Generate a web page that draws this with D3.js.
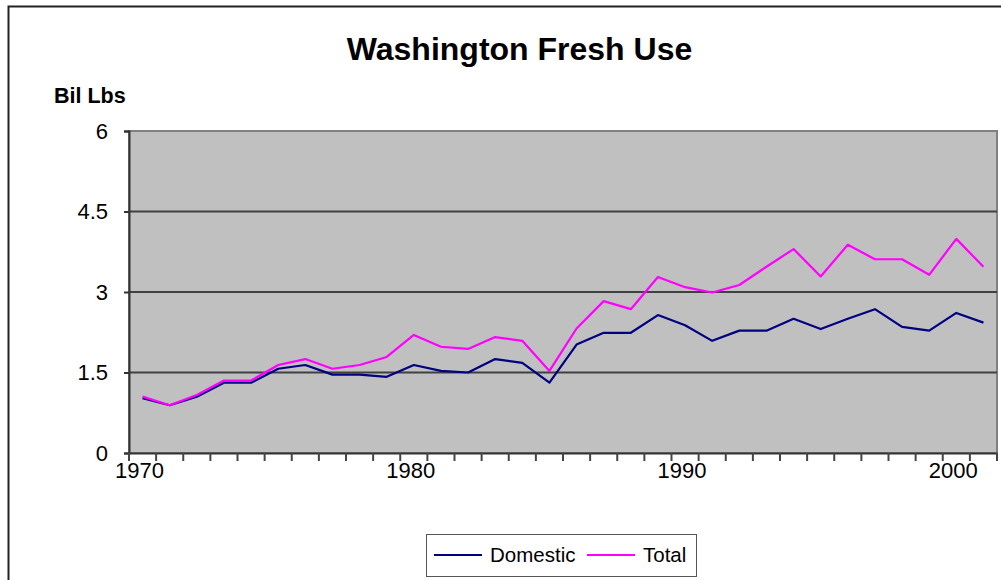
<!DOCTYPE html>
<html><head><meta charset="utf-8">
<script src="https://cdn.jsdelivr.net/npm/d3@7"></script>
<style>body{margin:0;background:#fff;}svg{display:block;font-family:"Liberation Sans",Arial,sans-serif;}</style>
</head><body>
<svg id="c" width="1001" height="580"></svg>
<script>
const years = d3.range(1970, 2002);
const domestic = [1.02,0.89,1.05,1.31,1.31,1.57,1.64,1.46,1.46,1.42,1.64,1.53,1.50,1.75,1.68,1.31,2.02,2.24,2.24,2.57,2.38,2.09,2.28,2.28,2.50,2.31,2.50,2.68,2.35,2.28,2.61,2.43];
const total = [1.05,0.89,1.08,1.35,1.35,1.64,1.75,1.57,1.64,1.79,2.20,1.98,1.94,2.16,2.09,1.53,2.32,2.83,2.68,3.28,3.09,2.99,3.13,3.47,3.80,3.29,3.88,3.61,3.61,3.32,3.99,3.47];
const yTicks = [0,1.5,3,4.5,6];
const xLabels = [1970,1980,1990,2000];
const seriesNames = ["Domestic","Total"];
const colors = ["#000080","#ff00ff"];

const svg = d3.select("#c");
const L=129, R=997, T=131, B=453;
svg.append("rect").attr("x",8.5).attr("y",6.5).attr("width",1100).attr("height",700)
  .attr("fill","none").attr("stroke","#222").attr("stroke-width",2);

const x = d3.scaleBand().domain(years).range([L,R]);
const y = d3.scaleLinear().domain([0,6]).range([B,T]);

svg.append("rect").attr("x",L).attr("y",T).attr("width",R-L).attr("height",B-T)
  .attr("fill","#c0c0c0").attr("stroke","#808080").attr("stroke-width",2);

// grid
svg.append("g").selectAll("line").data(yTicks.filter(d=>d>0&&d<6)).join("line")
  .attr("x1",L).attr("x2",R).attr("y1",d=>y(d)).attr("y2",d=>y(d))
  .attr("stroke","#404040").attr("stroke-width",2);

// y axis
const ya = svg.append("g").attr("transform",`translate(${L},0)`)
  .call(d3.axisLeft(y).tickValues(yTicks).tickSize(5).tickPadding(16).tickFormat(d=>d));
ya.select(".domain").attr("stroke","#333").attr("stroke-width",2);
ya.selectAll(".tick line").attr("stroke","#333").attr("stroke-width",2);
ya.selectAll("text").attr("font-size",22).attr("fill","#000").attr("font-family","Liberation Sans, Arial, sans-serif");

// x axis
const xa = svg.append("g").attr("transform",`translate(0,${B})`)
  .call(d3.axisBottom(x).tickValues([]).tickSizeOuter(0));
xa.select(".domain").attr("stroke","#333").attr("stroke-width",2);
svg.append("g").selectAll("line").data(years.concat([null])).join("line")
  .attr("x1",(d,i)=> i<years.length ? x(d) : R).attr("x2",(d,i)=> i<years.length ? x(d) : R)
  .attr("y1",B).attr("y2",B+8).attr("stroke","#444").attr("stroke-width",2);
svg.append("g").selectAll("text").data(xLabels).join("text")
  .attr("x",d=>x(d)+x.bandwidth()/2 - 3).attr("y",478).attr("text-anchor","middle")
  .attr("font-size",22).text(d=>d);

// lines
const line = d3.line().x((d,i)=>x(years[i])+x.bandwidth()/2).y(d=>y(d));
[domestic,total].forEach((s,i)=>{
  svg.append("path").attr("d",line(s)).attr("fill","none").attr("stroke",colors[i]).attr("stroke-width",2.2).attr("stroke-linejoin","round");
});

// titles
svg.append("text").attr("x",519.5).attr("y",60).attr("text-anchor","middle")
  .attr("font-size",32).attr("font-weight","bold").text("Washington Fresh Use");
svg.append("text").attr("x",54).attr("y",103).attr("font-size",21.5).attr("font-weight","bold").text("Bil Lbs");

// legend
const lg = svg.append("g");
lg.append("rect").attr("x",426.5).attr("y",534.5).attr("width",270).attr("height",42)
  .attr("fill","#fff").attr("stroke","#555").attr("stroke-width",1);
const lx = [434,587];
seriesNames.forEach((n,i)=>{
  lg.append("line").attr("x1",lx[i]).attr("x2",lx[i]+48).attr("y1",555).attr("y2",555).attr("stroke",colors[i]).attr("stroke-width",2);
  lg.append("text").attr("x",lx[i]+56).attr("y",562).attr("font-size",20.5).text(n);
});
</script>
</body></html>
